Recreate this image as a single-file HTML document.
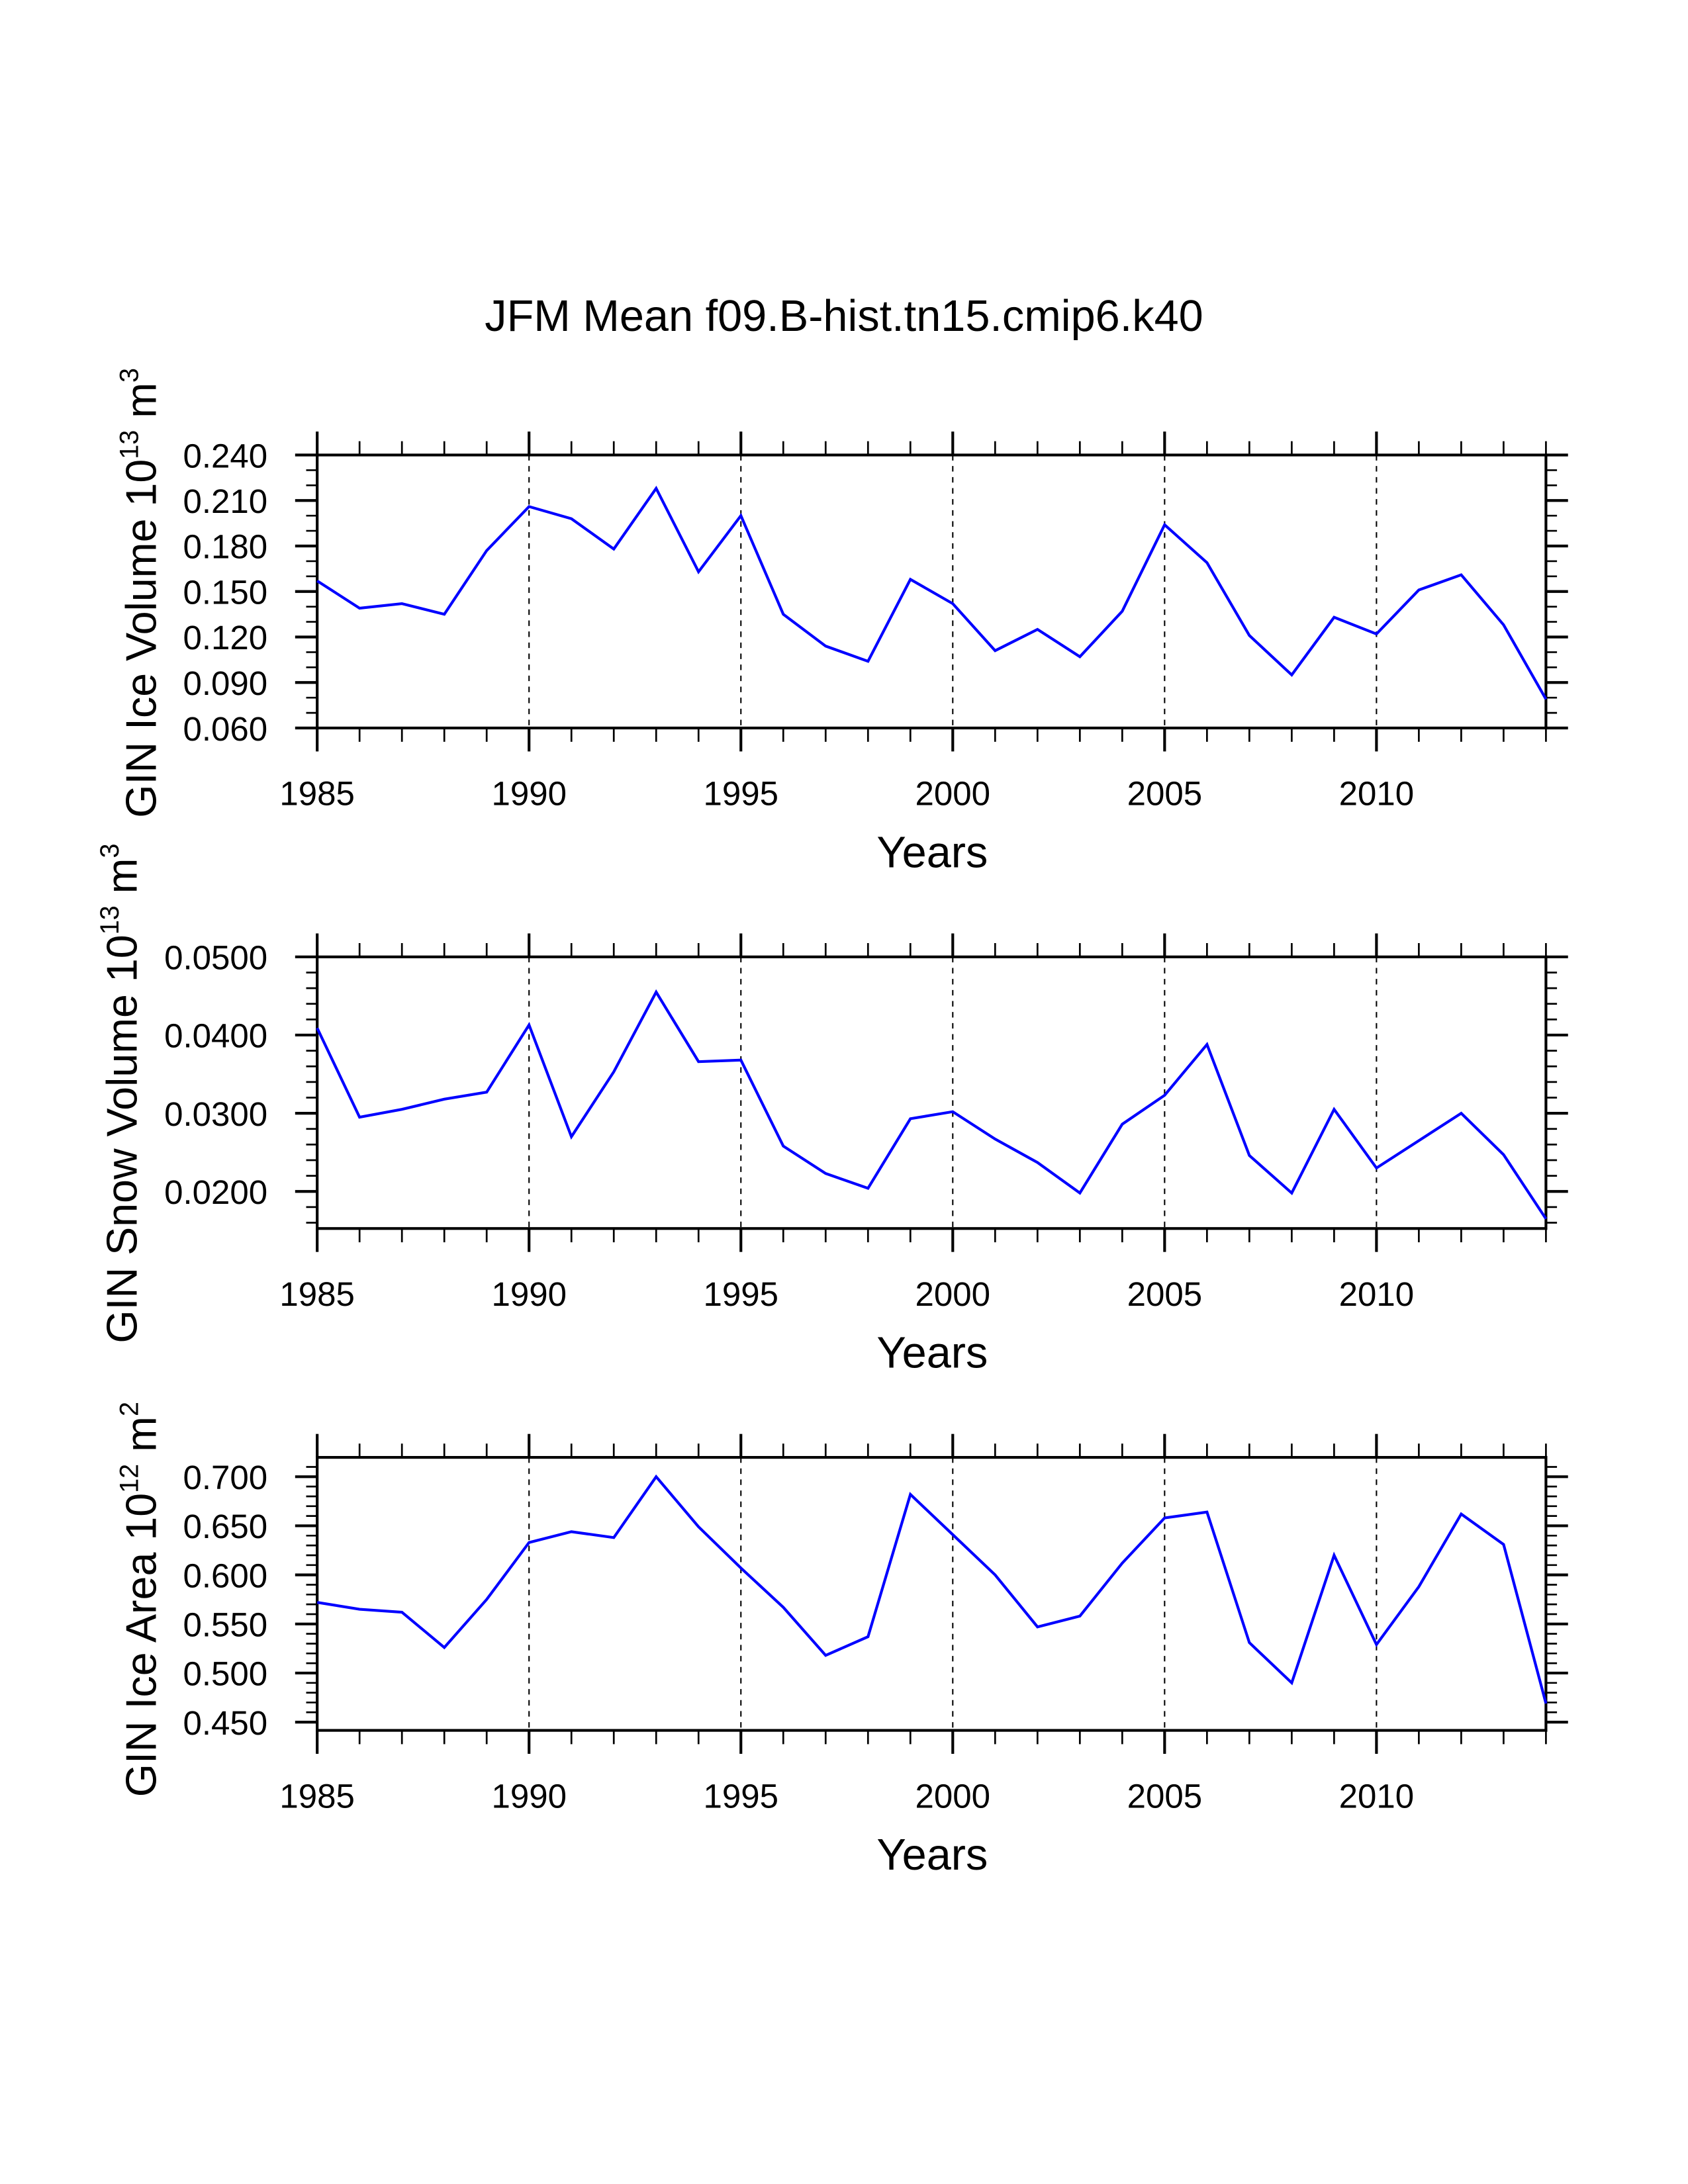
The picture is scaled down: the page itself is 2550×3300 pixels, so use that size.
<!DOCTYPE html>
<html><head><meta charset="utf-8"><style>
html,body{margin:0;padding:0;background:#fff}
svg{display:block}
text{font-family:"Liberation Sans",sans-serif;fill:#000}
</style></head><body>
<svg id="chart" width="2550" height="3300" viewBox="0 0 1224 1584" xmlns="http://www.w3.org/2000/svg">
<text x="612" y="240" font-size="32" text-anchor="middle">JFM Mean f09.B-hist.tn15.cmip6.k40</text>
</svg>
<script>
const years = [1985,1986,1987,1988,1989,1990,1991,1992,1993,1994,1995,1996,1997,1998,1999,2000,2001,2002,2003,2004,2005,2006,2007,2008,2009,2010,2011,2012,2013,2014];
const iceVolume = [0.157,0.139,0.142,0.135,0.177,0.206,0.198,0.178,0.218,0.163,0.200,0.135,0.114,0.104,0.158,0.142,0.111,0.125,0.107,0.137,0.194,0.169,0.121,0.095,0.133,0.122,0.151,0.161,0.128,0.079];
const snowVolume = [0.0409,0.0295,0.0305,0.0318,0.0327,0.0413,0.0270,0.0353,0.0455,0.0366,0.0368,0.0258,0.0223,0.0204,0.0293,0.0302,0.0267,0.0237,0.0198,0.0286,0.0323,0.0388,0.0246,0.0198,0.0305,0.0230,0.0265,0.0300,0.0247,0.0165];
const iceArea = [0.572,0.565,0.562,0.526,0.575,0.633,0.644,0.638,0.700,0.649,0.607,0.567,0.518,0.537,0.682,0.641,0.600,0.547,0.558,0.612,0.658,0.664,0.531,0.490,0.620,0.529,0.588,0.662,0.631,0.469];
const xTickLabels = [1985,1990,1995,2000,2005,2010];
const iceVolTicks = ["0.060","0.090","0.120","0.150","0.180","0.210","0.240"];
const snowVolTicks = ["0.0200","0.0300","0.0400","0.0500"];
const iceAreaTicks = ["0.450","0.500","0.550","0.600","0.650","0.700"];

const svg = document.getElementById('chart');
const NS = 'http://www.w3.org/2000/svg';
function mk(tag, attrs, parent){const e=document.createElementNS(NS,tag);for(const k in attrs)e.setAttribute(k,attrs[k]);(parent||svg).appendChild(e);return e;}

const X0=230, X1=1121;
const xs = y => X0 + (y-1985)/(2014-1985)*(X1-X0);

function panel(name, top, bottom, ymin, ymax, vals, ticks, minorStep, titleMain, titleExp, titleUnit, titleCy, titleX){
  const g = mk('g',{});
  
  
  const ys = v => bottom - (v-ymin)/(ymax-ymin)*(bottom-top);
  for(const t of xTickLabels){ if(t===1985) continue;
    const l=mk('line',{x1:xs(t),x2:xs(t),y1:top,y2:bottom,stroke:'#000','stroke-width':1,'stroke-dasharray':'4,4'},g);
    
    
  }
  for(let yr=1985; yr<=2014; yr++){
    const maj = (yr%5===0); const len = maj?17:10; const w = maj?2:1.3;
    mk('line',{x1:xs(yr),x2:xs(yr),y1:top,y2:top-len,stroke:'#000','stroke-width':w},g);
    mk('line',{x1:xs(yr),x2:xs(yr),y1:bottom,y2:bottom+len,stroke:'#000','stroke-width':w},g);
  }
  const nMin = Math.round((ymax-ymin)/minorStep)+2;
  const start = Math.ceil(ymin/minorStep-1e-6)*minorStep;
  for(let i=0;i<nMin;i++){
    const v = start + i*minorStep; if(v>ymax+1e-9) break;
    const y=ys(v);
    mk('line',{x1:X0,x2:X0-8,y1:y,y2:y,stroke:'#000','stroke-width':1.3},g);
    mk('line',{x1:X1,x2:X1+8,y1:y,y2:y,stroke:'#000','stroke-width':1.3},g);
  }
  for(const t of ticks){
    const y=ys(parseFloat(t));
    mk('line',{x1:X0,x2:X0-16,y1:y,y2:y,stroke:'#000','stroke-width':2},g);
    mk('line',{x1:X1,x2:X1+16,y1:y,y2:y,stroke:'#000','stroke-width':2},g);
    const tx=mk('text',{x:X0-36,y:y+9,'font-size':24.5,'text-anchor':'end'},g);
    tx.textContent=t;
    
    
  }
  const fr=mk('rect',{x:X0,y:top,width:X1-X0,height:bottom-top,fill:'none',stroke:'#000','stroke-width':2},g);
  
  
  for(const t of xTickLabels){
    const tx=mk('text',{x:xs(t),y:bottom+56,'font-size':24.5,'text-anchor':'middle'},g);
    tx.textContent=t;
    
    
  }
  const xt=mk('text',{x:676,y:bottom+101,'font-size':32,'text-anchor':'middle'},g);
  xt.textContent='Years';
  
  
  const yt=mk('text',{x:0,y:0,'font-size':31,'text-anchor':'middle',transform:'translate('+titleX+','+titleCy+') rotate(-90)'},g);
  
  
  const s1=mk('tspan',{},yt); s1.textContent=titleMain;
  const s2=mk('tspan',{'font-size':19,dy:-13},yt); s2.textContent=titleExp;
  const s3=mk('tspan',{dy:13},yt); s3.textContent=titleUnit.slice(0,2);
  const s4=mk('tspan',{'font-size':19,dy:-13},yt); s4.textContent=titleUnit.slice(2);
  const pts = vals.map((v,i)=>xs(years[i]).toFixed(2)+','+ys(v).toFixed(2)).join(' ');
  const pl=mk('polyline',{points:pts,fill:'none',stroke:'#0000ff','stroke-width':2,'stroke-linejoin':'miter'},g);
  
  
}
panel('ice-volume',330,528,0.060,0.240,iceVolume,iceVolTicks,0.01,'GIN Ice Volume 10','13',' m3',430,113);
panel('snow-volume',694,891,0.01526,0.0500,snowVolume,snowVolTicks,0.002,'GIN Snow Volume 10','13',' m3',793,99);
panel('ice-area',1057,1255,0.4416,0.7197,iceArea,iceAreaTicks,0.01,'GIN Ice Area 10','12',' m2',1160,113);
</script>
</body></html>
